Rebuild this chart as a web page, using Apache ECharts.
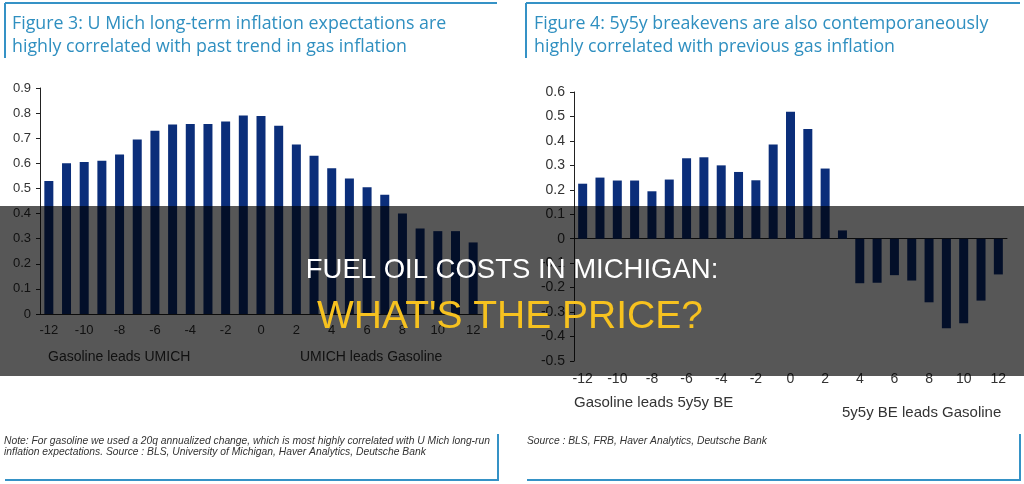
<!DOCTYPE html>
<html>
<head>
<meta charset="utf-8">
<script src="https://cdn.jsdelivr.net/npm/echarts@6/dist/echarts.min.js"></script>
<style>
  html, body { margin: 0; padding: 0; background: #fff; }
  #chart { width: 1024px; height: 484px; }
</style>
</head>
<body>
<div id="chart"></div>
<script>
// lags, quarters (-12 .. 12)
const lags = ['-12','-11','-10','-9','-8','-7','-6','-5','-4','-3','-2','-1','0',
              '1','2','3','4','5','6','7','8','9','10','11','12'];

// Figure 3: correlation U Mich long-term expectations vs gas inflation
const umichCorr = [0.53, 0.60, 0.605, 0.61, 0.635, 0.695, 0.73, 0.755, 0.757, 0.757, 0.767, 0.79, 0.788,
                   0.75, 0.675, 0.63, 0.58, 0.54, 0.505, 0.475, 0.40, 0.34, 0.33, 0.33, 0.285];

// Figure 4: correlation 5y5y breakevens vs gas inflation
const beCorr = [0.225, 0.25, 0.238, 0.238, 0.194, 0.242, 0.329, 0.333, 0.30, 0.273, 0.239, 0.385, 0.519,
                0.449, 0.287, 0.034, -0.182, -0.18, -0.149, -0.171, -0.26, -0.366, -0.346, -0.253, -0.146];

const barColor = '#0b2e7a';
const frameBlue = '#3592c6';
const titleBlue = '#2f8fc0';
const axisFont = 'Liberation Sans, Arial, sans-serif';
const titleFont = 'Open Sans, sans-serif';
const noteFont = 'italic 10.3px Liberation Sans, Arial, sans-serif';

const chart = echarts.init(document.getElementById('chart'));

function line(x1, y1, x2, y2) {
    return {
        type: 'line', z: 1,
        shape: { x1: x1, y1: y1, x2: x2, y2: y2 },
        style: { stroke: frameBlue, lineWidth: 2 }
    };
}
function txt(x, y, s, size, color, family) {
    return {
        type: 'text', z: 1,
        style: {
            text: s, x: x, y: y, fill: color,
            fontSize: size, fontFamily: family || axisFont,
            textVerticalAlign: 'middle'
        }
    };
}
function note(x, y, s) {
    return {
        type: 'text', z: 1,
        style: { text: s, x: x, y: y, fill: '#333', font: noteFont, textVerticalAlign: 'middle' }
    };
}

chart.setOption({
    animation: false,
    grid: [
        { left: 40, top: 88, width: 442, height: 226 },
        { left: 574, top: 92, width: 433, height: 269 }
    ],
    xAxis: [{
        type: 'category', gridIndex: 0, data: lags,
        axisLine: { lineStyle: { color: '#222' } },
        axisTick: { interval: 1, length: 4, lineStyle: { color: '#222' } },
        axisLabel: { interval: 1, margin: 10, fontSize: 13, color: '#333', fontFamily: axisFont }
    }, {
        type: 'category', gridIndex: 1, data: lags,
        axisLine: { onZero: true, lineStyle: { color: '#222' } },
        axisTick: { interval: 1, length: 4, lineStyle: { color: '#222' } },
        axisLabel: { show: false }
    }, {
        type: 'category', gridIndex: 1, data: lags, position: 'bottom',
        axisLine: { show: false, onZero: false },
        axisTick: { show: false },
        axisLabel: { interval: 1, margin: 11, fontSize: 14, color: '#333', fontFamily: axisFont }
    }],
    yAxis: [{
        type: 'value', gridIndex: 0, min: 0, max: 0.9, interval: 0.1,
        splitLine: { show: false },
        axisLine: { show: true, lineStyle: { color: '#222' } },
        axisTick: { show: true, length: 4, lineStyle: { color: '#222' } },
        axisLabel: { fontSize: 13, color: '#333', margin: 9, fontFamily: axisFont,
            formatter: v => (Math.round(v * 10) / 10).toString() }
    }, {
        type: 'value', gridIndex: 1, min: -0.5, max: 0.6, interval: 0.1,
        splitLine: { show: false },
        axisLine: { show: true, lineStyle: { color: '#222' } },
        axisTick: { show: true, length: 4, lineStyle: { color: '#222' } },
        axisLabel: { fontSize: 14, color: '#333', margin: 9, fontFamily: axisFont,
            formatter: v => (Math.round(v * 10) / 10).toString() }
    }],
    series: [{
        type: 'bar', xAxisIndex: 0, yAxisIndex: 0,
        data: umichCorr, barWidth: 9,
        itemStyle: { color: barColor }
    }, {
        type: 'bar', xAxisIndex: 1, yAxisIndex: 1,
        data: beCorr, barWidth: 9,
        itemStyle: { color: barColor }
    }],
    graphic: [
        // panel frames
        line(5, 3, 497, 3), line(5, 3, 5, 58),
        line(5, 480, 498, 480), line(498, 434, 498, 481),
        line(526, 3, 1020, 3), line(526, 3, 526, 58),
        line(527, 480, 1020, 480), line(1020, 434, 1020, 481),

        // panel titles
        txt(12, 24, 'Figure 3: U Mich long-term inflation expectations are', 17.8, titleBlue, titleFont),
        txt(12, 47, 'highly correlated with past trend in gas inflation', 17.8, titleBlue, titleFont),
        txt(534, 24, 'Figure 4: 5y5y breakevens are also contemporaneously', 17.8, titleBlue, titleFont),
        txt(534, 47, 'highly correlated with previous gas inflation', 17.8, titleBlue, titleFont),

        // axis captions
        txt(48, 357, 'Gasoline leads UMICH', 14, '#333'),
        txt(300, 357, 'UMICH leads Gasoline', 14, '#333'),
        txt(574, 403, 'Gasoline leads 5y5y BE', 15, '#333'),
        txt(842, 413, '5y5y BE leads Gasoline', 15, '#333'),

        // notes
        note(4, 441, 'Note: For gasoline we used a 20q annualized change, which is most highly correlated with U Mich long-run'),
        note(4, 452, 'inflation expectations. Source : BLS, University of Michigan, Haver Analytics, Deutsche Bank'),
        note(527, 441, 'Source : BLS, FRB, Haver Analytics, Deutsche Bank'),

        // banner overlay
        {
            type: 'rect', z: 100,
            shape: { x: 0, y: 206, width: 1024, height: 170 },
            style: { fill: 'rgba(0,0,0,0.66)' }
        },
        {
            type: 'text', z: 101,
            style: {
                text: 'FUEL OIL COSTS IN MICHIGAN:', x: 512, y: 270,
                fill: '#ffffff', fontSize: 27.5, fontFamily: axisFont,
                textAlign: 'center', textVerticalAlign: 'middle'
            }
        },
        {
            type: 'text', z: 101,
            style: {
                text: "WHAT'S THE PRICE?", x: 510, y: 317,
                fill: '#f7c21f', fontSize: 39, fontFamily: axisFont,
                textAlign: 'center', textVerticalAlign: 'middle'
            }
        }
    ]
});
</script>
</body>
</html>
